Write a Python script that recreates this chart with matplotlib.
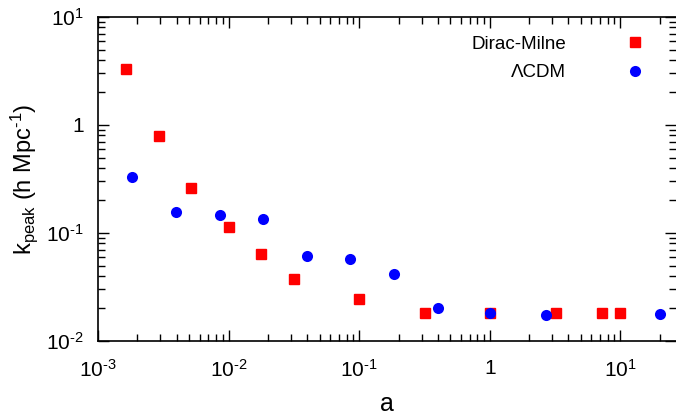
import numpy as np
import matplotlib
matplotlib.use("Agg")
import matplotlib.pyplot as plt
from matplotlib.ticker import LogLocator, FixedLocator, FixedFormatter, NullFormatter

plt.rcParams['font.family'] = ['Liberation Sans', 'DejaVu Sans']
plt.rcParams['mathtext.fontset'] = 'custom'
plt.rcParams['mathtext.rm'] = 'Liberation Sans'
plt.rcParams['mathtext.it'] = 'Liberation Sans'
plt.rcParams['mathtext.default'] = 'regular'

# Dirac-Milne data
a_dm = [0.00164, 0.00292, 0.00515, 0.0100, 0.0177, 0.0315, 0.100, 0.317, 1.0, 3.19, 7.2, 10.0]
k_dm = [3.28, 0.79, 0.261, 0.114, 0.064, 0.0375, 0.0247, 0.0183, 0.0183, 0.0183, 0.0183, 0.0183]

# LambdaCDM data
a_lcdm = [0.00183, 0.00395, 0.00855, 0.0183, 0.0396, 0.0855, 0.184, 0.404, 1.0, 2.68, 20.0]
k_lcdm = [0.330, 0.157, 0.147, 0.134, 0.0612, 0.057, 0.0414, 0.0202, 0.018, 0.0175, 0.0177]

xticks = [1e-3, 1e-2, 1e-1, 1, 10]
xlabels = [r'$10^{\text{-}3}$', r'$10^{\text{-}2}$', r'$10^{\text{-}1}$', '1', '$10^{1}$']
yticks = [1e-2, 1e-1, 1, 10]
ylabels = [r'$10^{\text{-}2}$', r'$10^{\text{-}1}$', '1', '$10^{1}$']

fig = plt.figure(figsize=(6.76, 4.16), dpi=100)
W, H = 676, 416
left, right, top, bottom = 98, 676, 17, 341
ax = fig.add_axes([left / W, 1 - bottom / H, (right - left) / W, (bottom - top) / H])

ax.plot(a_dm, k_dm, 's', color='#ff0000', markersize=7.2, label='Dirac-Milne', linestyle='none')
ax.plot(a_lcdm, k_lcdm, 'o', color='#0000ff', markersize=8, label='ΛCDM', linestyle='none', markeredgewidth=0)

ax.set_xscale('log')
ax.set_yscale('log')
dec = 130.6
ax.set_xlim(1e-3, 10 ** (-3 + (right - left) / dec))
ax.set_ylim(1e-2, 10)

ax.xaxis.set_major_locator(FixedLocator(xticks))
ax.xaxis.set_major_formatter(FixedFormatter(xlabels))
ax.yaxis.set_major_locator(FixedLocator(yticks))
ax.yaxis.set_major_formatter(FixedFormatter(ylabels))
ax.xaxis.set_minor_locator(LogLocator(base=10, subs=np.arange(2, 10), numticks=20))
ax.yaxis.set_minor_locator(LogLocator(base=10, subs=np.arange(2, 10), numticks=20))
ax.xaxis.set_minor_formatter(NullFormatter())
ax.yaxis.set_minor_formatter(NullFormatter())

ax.tick_params(which='both', direction='in', top=True, right=True, labelsize=15, width=1)
ax.tick_params(which='major', length=8)
ax.tick_params(which='minor', length=5)
ax.tick_params(axis='x', which='major', pad=13)
ax.tick_params(axis='y', which='major', pad=10)
ax.spines['right'].set_visible(False)
for s in ['left', 'top', 'bottom']:
    ax.spines[s].set_linewidth(1.2)

ax.set_xlabel('a', fontsize=18, labelpad=8)
ax.set_ylabel(r'$k_{peak}$ (h Mpc$^{\text{-}1}$)', fontsize=17, labelpad=5)

# gnuplot-style key: symbol on the right, entries right aligned
leg = ax.legend(loc='upper right', bbox_to_anchor=(0.975, 0.994), frameon=False, fontsize=13.5,
                markerfirst=False, handletextpad=3.2, labelspacing=0.6, handlelength=1.0)

fig.savefig('out.png', dpi=100)
